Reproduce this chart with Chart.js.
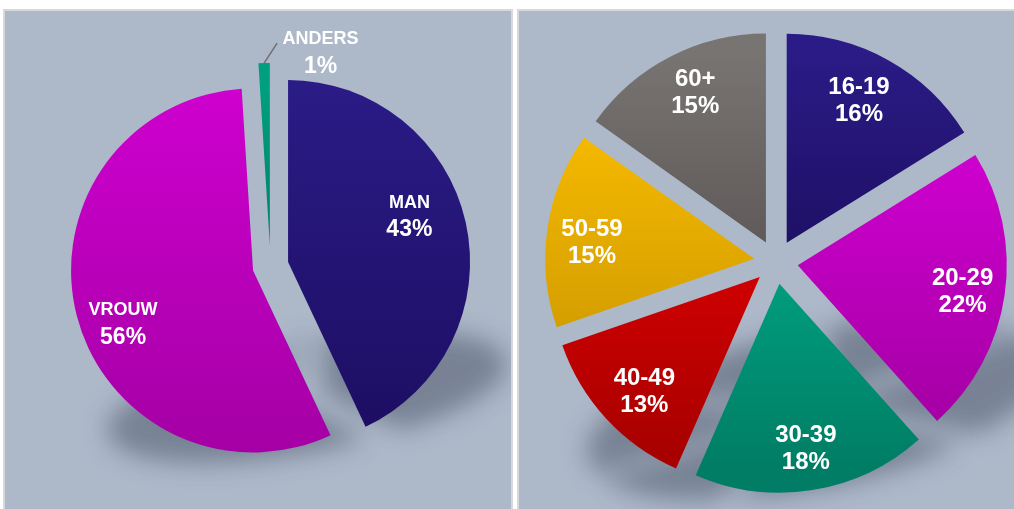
<!DOCTYPE html>
<html>
<head>
<meta charset="utf-8">
<script src="https://cdn.jsdelivr.net/npm/chart.js@4.4.0/dist/chart.umd.min.js"></script>
<style>
  html, body { margin: 0; padding: 0; background: #fff; }
  body { width: 1014px; height: 509px; position: relative; overflow: hidden; }
  .panel { position: absolute; top: 9px; height: 502px; width: 510px; background: #adb8c9; border: 2px solid #d6d8dc; box-sizing: border-box; overflow: hidden; }
  #leftPanel { left: 3px; }
  #rightPanel { left: 517px; }
  .panel .box { position: absolute; left: 0; top: 0; width: 506px; height: 498px; }
</style>
</head>
<body>
<div class="panel" id="leftPanel"><div class="box"><canvas id="genderChart"></canvas></div></div>
<div class="panel" id="rightPanel"><div class="box"><canvas id="ageChart"></canvas></div></div>

<script>
// Data
const genderLabels = ['MAN', 'VROUW', 'ANDERS'];
const genderShares = [43, 56, 1];

const ageLabels = ['16-19', '20-29', '30-39', '40-49', '50-59', '60+'];
const ageShares = [16, 22, 18, 13, 15, 15];

// top / bottom colour of every slice
const NAVY = ['#2a1b86', '#1d0e63'];
const MAGENTA = ['#cf00cf', '#a500a5'];
const TEAL = ['#00a07f', '#007d64'];
const RED = ['#d20000', '#a80000'];
const GOLD = ['#f4b800', '#d49e00'];
const GREY = ['#787472', '#5d5857'];

const genderColors = [NAVY, MAGENTA, TEAL];
const ageColors = [NAVY, MAGENTA, TEAL, RED, GOLD, GREY];

const FONT = '"Liberation Sans", Arial, sans-serif';

const pick = (v, i) => Array.isArray(v) ? v[i] : (v || 0);

// vertical gradient over the extent of one slice
function sliceFill(colors, radius) {
    return (c) => {
        const pair = colors[c.dataIndex];
        const area = c.chart.chartArea;
        if (!area || c.type !== 'data') return pair[0];
        const vals = c.dataset.data;
        const total = vals.reduce((a, b) => a + b, 0);
        const before = vals.slice(0, c.dataIndex).reduce((a, b) => a + b, 0);
        const a0 = -Math.PI / 2 + 2 * Math.PI * before / total;
        const a1 = a0 + 2 * Math.PI * vals[c.dataIndex] / total;
        const cy = (area.top + area.bottom) / 2;
        const ys = [0, Math.sin(a0), Math.sin(a1)];
        [-Math.PI / 2, Math.PI / 2, 3 * Math.PI / 2].forEach(k => {
            if (k > a0 && k < a1) ys.push(Math.sin(k));
        });
        const top = cy + radius * Math.min(...ys);
        const bottom = cy + radius * Math.max(...ys);
        const g = c.chart.ctx.createLinearGradient(0, top, 0, bottom);
        g.addColorStop(0, pair[0]);
        g.addColorStop(1, pair[1]);
        return g;
    };
}

// pull every slice away from the centre along its mid angle
const explode = {
    id: 'explode',
    afterDatasetUpdate(chart, args, opts) {
        const meta = chart.getDatasetMeta(args.index);
        meta.data.forEach((arc, i) => {
            const d = pick(opts.px, i);
            const mid = (arc.startAngle + arc.endAngle) / 2;
            arc.x += Math.cos(mid) * d;
            arc.y += Math.sin(mid) * d;
        });
    }
};

// soft, flattened and skewed shadow on the "floor" behind the pie
const floorShadow = {
    id: 'floorShadow',
    beforeDatasetsDraw(chart, args, opts) {
        const meta = chart.getDatasetMeta(0);
        if (!meta.data.length) return;
        const ctx = chart.ctx;
        const area = chart.chartArea;
        const r = meta.data[0].outerRadius;
        const cx = (area.left + area.right) / 2;
        const cy = (area.top + area.bottom) / 2;
        ctx.save();
        ctx.filter = 'blur(' + opts.blur + 'px)';
        ctx.fillStyle = opts.color;
        ctx.translate(cx + opts.dx * r, cy + opts.drop * r);
        ctx.transform(1, opts.skew, 0, opts.squash, 0, 0);
        ctx.translate(-cx, -cy);
        meta.data.forEach(arc => {
            ctx.beginPath();
            ctx.moveTo(arc.x, arc.y);
            ctx.arc(arc.x, arc.y, arc.outerRadius, arc.startAngle, arc.endAngle);
            ctx.closePath();
            ctx.fill();
        });
        ctx.restore();
    }
};

// two-line labels: category + percentage
const sliceLabels = {
    id: 'sliceLabels',
    afterDatasetsDraw(chart, args, opts) {
        const meta = chart.getDatasetMeta(0);
        const ctx = chart.ctx;
        const area = chart.chartArea;
        const cx = (area.left + area.right) / 2;
        const cy = (area.top + area.bottom) / 2;
        const names = chart.data.labels;
        const vals = chart.data.datasets[0].data;
        const deg = Math.PI / 180;
        const at = (k, ang) => [cx + Math.cos(ang) * k, cy + Math.sin(ang) * k];

        ctx.save();
        ctx.fillStyle = '#ffffff';
        ctx.textAlign = 'center';
        ctx.textBaseline = 'middle';
        meta.data.forEach((arc, i) => {
            const r = arc.outerRadius;
            const mid = (arc.startAngle + arc.endAngle) / 2;
            const out = opts.outside && opts.outside.index === i ? opts.outside : null;
            let p;
            if (out) {
                const tipX = arc.x + Math.cos(mid) * r;
                const tipY = arc.y + Math.sin(mid) * r;
                const end = at(out.lineAt[0] * r, mid + out.lineAt[1] * deg);
                ctx.strokeStyle = '#6f6f6f';
                ctx.lineWidth = 1.5;
                ctx.beginPath();
                ctx.moveTo(tipX, tipY);
                ctx.lineTo(end[0], end[1]);
                ctx.stroke();
                p = at(out.textAt[0] * r, mid + out.textAt[1] * deg);
            } else {
                p = at(pick(opts.radius, i) * r, mid + pick(opts.turn, i) * deg);
            }
            const half = opts.gap / 2;
            ctx.font = 'bold ' + opts.nameSize + 'px ' + FONT;
            ctx.fillText(names[i], p[0], p[1] - half);
            ctx.font = 'bold ' + opts.pctSize + 'px ' + FONT;
            ctx.fillText(vals[i] + '%', p[0], p[1] + half);
        });
        ctx.restore();
    }
};

function pieConfig(labels, values, colors, radius, padding, plugins) {
    return {
        type: 'pie',
        data: {
            labels: labels,
            datasets: [{
                data: values,
                radius: radius,
                backgroundColor: sliceFill(colors, radius),
                borderWidth: 0
            }]
        },
        options: {
            responsive: true,
            maintainAspectRatio: false,
            animation: false,
            events: [],
            layout: { padding: padding },
            plugins: Object.assign({
                legend: { display: false },
                tooltip: { enabled: false }
            }, plugins)
        },
        plugins: [explode, floorShadow, sliceLabels]
    };
}

new Chart(document.getElementById('genderChart'), pieConfig(
    genderLabels, genderShares, genderColors, 182,
    { left: 25, top: 12 },
    {
        explode: { px: [18, 18, 21] },
        floorShadow: { color: 'rgba(40, 50, 70, 0.4)', blur: 12, dx: 0.2, drop: 0.72, squash: 0.3, skew: -0.16 },
        sliceLabels: {
            radius: [0.81, 0.87], turn: -7, gap: 27, nameSize: 18, pctSize: 23,
            outside: { index: 2, lineAt: [1.225, 3.5], textAt: [1.204, 15] }
        }
    }
));

new Chart(document.getElementById('ageChart'), pieConfig(
    ageLabels, ageShares, ageColors, 209,
    { left: 8, top: 4 },
    {
        explode: { px: 22 },
        floorShadow: { color: 'rgba(40, 50, 70, 0.4)', blur: 12, dx: 0.2, drop: 0.7, squash: 0.35, skew: -0.19 },
        sliceLabels: {
            radius: [0.866, 0.904, 0.904, 0.885, 0.885, 0.895],
            turn: [-1.8, 0.9, 0, -1.9, -2.3, 1.7],
            gap: 27, nameSize: 24, pctSize: 24
        }
    }
));
</script>
</body>
</html>
